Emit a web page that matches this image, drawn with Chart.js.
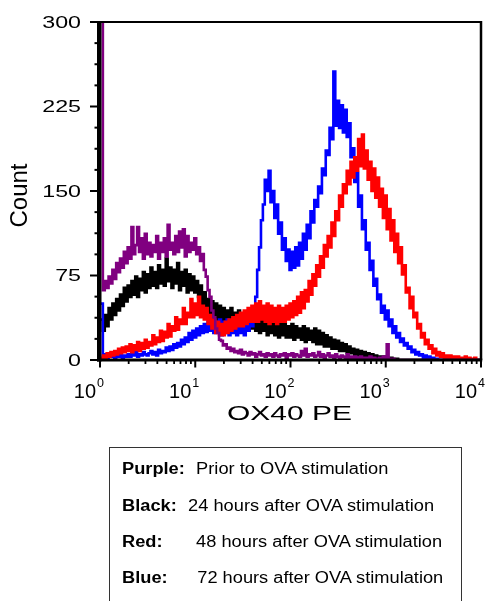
<!DOCTYPE html>
<html>
<head>
<meta charset="utf-8">
<script src="https://cdn.jsdelivr.net/npm/chart.js@4.4.1/dist/chart.umd.min.js"></script>
<style>
  body { margin: 0; background: #fff; }
  #wrap { position: relative; width: 488px; height: 601px; overflow: hidden; font-family: "Liberation Sans", Arial, sans-serif; }
  #c { position: absolute; left: 0; top: 0; }
  #legendBox { position: absolute; left: 109px; top: 447px; width: 351px; height: 200px; border: 1.5px solid #333; }
  .row { position: absolute; left: 122px; font-size: 16px; line-height: 16px; white-space: nowrap; transform: scaleX(1.14); transform-origin: 0 0; color: #000; }
  .row b { display: inline-block; }
</style>
</head>
<body>
<div id="wrap">
  <canvas id="c" width="488" height="601"></canvas>
  <div id="legendBox"></div>
</div>
<script>
// ---------------------------------------------------------------- data (counts per channel, 50 channels per decade)
var purple = [
  320, 320, 62, 70, 64, 74, 68, 80, 72, 86,
  78, 90, 82, 96, 86, 100, 90, 118, 94, 102,
  118, 96, 108, 90, 112, 94, 104, 92, 102, 96,
  110, 90, 104, 96, 108, 92, 120, 98, 104, 94,
  110, 96, 114, 100, 116, 92, 110, 96, 104, 98,
  108, 94, 100, 88, 94, 80, 74, 62, 56, 44,
  38, 28, 24, 18, 17, 13, 14, 10, 11, 8,
  10, 7, 8, 6, 9, 5, 7, 6, 4, 7,
  5, 6, 3, 5, 7, 4, 5, 3, 6, 4,
  5, 3, 6, 4, 3, 5, 4, 6, 2, 5,
  4, 6, 3, 5, 4, 3, 8, 4, 10, 3,
  5, 4, 6, 3, 4, 7, 3, 5, 2, 4,
  6, 3, 4, 2, 5, 3, 2, 4, 3, 2,
  5, 2, 3, 1, 3, 2, 1, 3, 2, 1,
  2, 1, 3, 1, 2, 1, 0, 2, 1, 3,
  1, 14, 1, 0, 1, 0, 0, 0, 0, 0,
  0, 0, 0, 0, 0, 0, 0, 0, 0, 0,
  0, 0, 0, 0, 0, 0, 0, 0, 0, 0,
  0, 0, 0, 0, 0, 0, 0, 0, 0, 0,
  0, 0, 0, 0, 0, 0, 0, 0, 0, 0,
  0
];
var black = [
  36, 36, 26, 40, 30, 46, 36, 50, 40, 54,
  44, 58, 48, 64, 52, 66, 56, 70, 58, 74,
  56, 72, 62, 78, 60, 76, 64, 82, 66, 78,
  64, 84, 68, 80, 66, 90, 70, 82, 64, 80,
  68, 86, 62, 78, 66, 80, 60, 76, 62, 74,
  60, 70, 56, 66, 50, 60, 44, 54, 40, 52,
  36, 50, 34, 48, 32, 46, 34, 44, 30, 46,
  30, 42, 28, 44, 30, 40, 28, 42, 26, 40,
  28, 38, 26, 40, 24, 36, 26, 38, 22, 36,
  24, 34, 22, 36, 20, 32, 22, 34, 20, 30,
  20, 32, 18, 30, 20, 28, 18, 30, 16, 28,
  18, 26, 16, 28, 14, 26, 14, 24, 12, 22,
  12, 20, 10, 18, 10, 17, 8, 15, 8, 14,
  6, 12, 6, 10, 4, 9, 4, 8, 3, 7,
  2, 6, 2, 5, 1, 4, 1, 3, 1, 3,
  0, 2, 0, 2, 1, 0, 1, 0, 0, 0,
  0, 0, 0, 0, 0, 0, 0, 0, 0, 0,
  0, 0, 0, 0, 0, 0, 0, 0, 0, 0,
  0, 0, 0, 0, 0, 0, 0, 0, 0, 0,
  0, 0, 0, 0, 0, 0, 0, 0, 0, 0,
  0
];
var red = [
  2, 1, 4, 2, 6, 3, 7, 4, 8, 5,
  10, 6, 11, 7, 12, 8, 14, 7, 13, 9,
  16, 8, 15, 10, 18, 11, 16, 13, 22, 14,
  20, 16, 26, 17, 25, 20, 32, 21, 30, 26,
  38, 27, 36, 32, 46, 32, 42, 38, 54, 38,
  50, 40, 56, 38, 48, 36, 46, 32, 40, 28,
  36, 24, 34, 22, 32, 22, 34, 24, 36, 26,
  38, 28, 40, 30, 42, 30, 44, 32, 46, 34,
  48, 34, 50, 34, 52, 36, 48, 34, 50, 32,
  48, 34, 46, 32, 48, 34, 46, 34, 48, 36,
  50, 38, 52, 40, 56, 42, 60, 46, 62, 52,
  70, 58, 76, 66, 84, 74, 92, 82, 102, 92,
  110, 100, 122, 110, 132, 124, 146, 136, 156, 148,
  168, 156, 176, 162, 180, 168, 196, 172, 200, 170,
  186, 160, 176, 150, 170, 144, 162, 136, 152, 126,
  146, 116, 134, 106, 124, 96, 112, 86, 100, 76,
  84, 60, 64, 46, 56, 38, 42, 28, 32, 20,
  24, 14, 18, 10, 13, 6, 10, 4, 7, 3,
  6, 2, 4, 2, 4, 1, 3, 1, 3, 0,
  2, 1, 3, 0, 2, 1, 0, 2, 0, 0,
  0
];
var blue = [
  50, 50, 3, 5, 2, 4, 3, 5, 2, 4,
  3, 6, 2, 4, 3, 5, 3, 6, 4, 7,
  3, 5, 4, 7, 5, 4, 6, 8, 5, 7,
  4, 9, 6, 8, 7, 11, 8, 12, 9, 14,
  11, 15, 12, 18, 14, 20, 16, 24, 18, 26,
  20, 28, 22, 30, 24, 32, 25, 34, 26, 36,
  24, 34, 26, 36, 22, 34, 24, 36, 22, 34,
  24, 32, 22, 34, 24, 36, 22, 32, 26, 36,
  30, 44, 56, 80, 100, 124, 138, 160, 150, 168,
  140, 150, 126, 138, 112, 122, 98, 108, 88, 98,
  80, 96, 82, 100, 84, 104, 90, 112, 98, 120,
  108, 132, 122, 142, 136, 154, 148, 170, 164, 186,
  182, 206, 196, 256, 208, 230, 206, 226, 202, 222,
  198, 210, 180, 188, 158, 166, 136, 146, 116, 124,
  98, 104, 80, 88, 66, 72, 54, 58, 42, 48,
  36, 44, 30, 36, 24, 30, 20, 24, 16, 19,
  13, 15, 10, 12, 7, 9, 5, 7, 4, 5,
  2, 4, 2, 3, 1, 2, 0, 1, 0, 0,
  0, 0, 0, 0, 0, 0, 0, 0, 0, 0,
  0, 0, 0, 0, 0, 0, 0, 0, 0, 0,
  0
];

var yTicks = [0, 75, 150, 225, 300];
var decades = [0, 1, 2, 3, 4];
var perDecade = 50;
var xTitle = 'OX40 PE';
var yTitle = 'Count';

var legendNames = ['Purple:', 'Black:', 'Red:', 'Blue:'];
var legendTexts = ['Prior to OVA stimulation', '24 hours after OVA stimulation',
                   '48 hours after OVA stimulation', '72 hours after OVA stimulation'];

var channels = purple.map(function(v, i) { return i; });

// ---------------------------------------------------------------- legend box (html text)
var rowTops = [461, 498, 533.5, 569.5];
var valueOffsets = [65, 58, 65, 66];
legendNames.forEach(function(name, i) {
  var row = document.createElement('div');
  row.className = 'row';
  row.style.top = rowTops[i] + 'px';
  row.innerHTML = '<b style="width:' + valueOffsets[i] + 'px">' + name + '</b>' + legendTexts[i];
  document.getElementById('wrap').appendChild(row);
});

// ---------------------------------------------------------------- frame, ticks and labels
var FONT = '"Liberation Sans", Arial, sans-serif';

var axisDecor = {
  id: 'axisDecor',
  afterDatasetsDraw: function(chart) {
    var ctx = chart.ctx, area = chart.chartArea, x = chart.scales.x, y = chart.scales.y;
    ctx.save();
    ctx.strokeStyle = '#000';
    ctx.fillStyle = '#000';
    function seg(x1, y1, x2, y2, w) {
      ctx.lineWidth = w;
      ctx.beginPath(); ctx.moveTo(x1, y1); ctx.lineTo(x2, y2); ctx.stroke();
    }
    // box
    seg(area.left, area.top, area.right, area.top, 2);
    seg(area.right, area.top - 1, area.right, area.bottom, 2.5);
    seg(area.left - 3, area.bottom, area.right + 1.25, area.bottom, 3);
    seg(area.left - 0.75, area.top - 1, area.left - 0.75, area.bottom + 1.5, 4.5);

    // y ticks
    var minorStep = (yTicks[1] - yTicks[0]) / 4;
    for (var v = yTicks[0]; v <= yTicks[yTicks.length - 1]; v += minorStep) {
      var py = y.getPixelForValue(v);
      var major = yTicks.indexOf(v) >= 0;
      seg(major ? 90 : 94.5, py, 98, py, 2);
    }
    ctx.font = '16px ' + FONT;
    ctx.textAlign = 'right';
    ctx.textBaseline = 'alphabetic';
    yTicks.forEach(function(t) {
      var py = y.getPixelForValue(t);
      ctx.save();
      ctx.translate(81, py + 5.7);
      ctx.scale(1.45, 1);
      ctx.fillText(String(t), 0, 0);
      ctx.restore();
    });

    // x ticks (log decades)
    decades.forEach(function(d, i) {
      var px = x.getPixelForValue(d * perDecade);
      seg(px, area.bottom, px, area.bottom + 7.5, 2);
      if (i < decades.length - 1) {
        for (var m = 2; m <= 9; m++) {
          var mx = x.getPixelForValue((d + Math.log10(m)) * perDecade);
          seg(mx, area.bottom, mx, area.bottom + 4, 1.8);
        }
      }
      ctx.font = '20px ' + FONT;
      ctx.textAlign = 'right';
      ctx.fillText('10', px - 4, 398);
      ctx.font = '12.5px ' + FONT;
      ctx.textAlign = 'left';
      ctx.fillText(String(d), px - 3, 387);
    });

    // axis titles
    ctx.font = '21px ' + FONT;
    var w = ctx.measureText(xTitle).width;
    ctx.save();
    ctx.translate(289.5, 420);
    ctx.scale(125 / w, 1);
    ctx.textAlign = 'center';
    ctx.fillText(xTitle, 0, 0);
    ctx.restore();

    ctx.font = '24px ' + FONT;
    ctx.save();
    ctx.translate(27, 195.5);
    ctx.rotate(-Math.PI / 2);
    ctx.textAlign = 'center';
    ctx.fillText(yTitle, 0, 0);
    ctx.restore();

    ctx.restore();
  }
};

// ---------------------------------------------------------------- chart
function histo(data, color) {
  return {
    data: data,
    borderColor: color,
    borderWidth: 2.6,
    pointRadius: 0,
    stepped: 'middle',
    fill: false
  };
}

new Chart(document.getElementById('c').getContext('2d'), {
  type: 'line',
  data: {
    labels: channels,
    datasets: [
      histo(purple, '#800080'),
      histo(red, '#ff0000'),
      histo(blue, '#0000ff'),
      histo(black, '#000000')
    ]
  },
  options: {
    responsive: false,
    animation: false,
    layout: { padding: { top: 22, right: 7, left: 0, bottom: 0 } },
    plugins: { legend: { display: false }, tooltip: { enabled: false } },
    scales: {
      x: {
        type: 'linear', min: 0, max: decades[decades.length - 1] * perDecade,
        ticks: { display: false }, grid: { display: false }, border: { display: false },
        afterFit: function(s) { s.height = 241; }
      },
      y: {
        min: yTicks[0], max: yTicks[yTicks.length - 1],
        ticks: { display: false }, grid: { display: false }, border: { display: false },
        afterFit: function(s) { s.width = 100; }
      }
    }
  },
  plugins: [axisDecor]
});
</script>
</body>
</html>
